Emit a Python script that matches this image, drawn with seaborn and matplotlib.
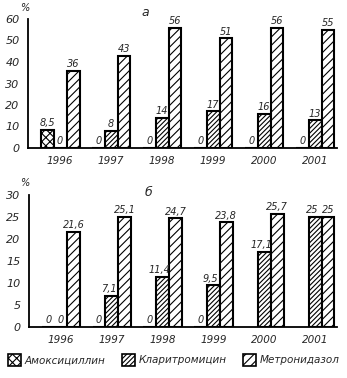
import matplotlib
matplotlib.use("Agg")
import matplotlib.pyplot as plt
import seaborn as sns
import pandas as pd
import numpy as np
from matplotlib.patches import Patch

years = ["1996", "1997", "1998", "1999", "2000", "2001"]
drugs = ["Амоксициллин", "Кларитромицин", "Метронидазол"]

# panel а
a_amox = [8.5, 0, 0, 0, 0, 0]
a_clar = [0, 8, 14, 17, 16, 13]
a_metr = [36, 43, 56, 51, 56, 55]

# panel б
b_amox = [0, 0, 0, 0, np.nan, np.nan]
b_clar = [0, 7.1, 11.4, 9.5, 17.1, 25]
b_metr = [21.6, 25.1, 24.7, 23.8, 25.7, 25]

hatches = ["xxxx", "///////", "////"]

sns.set_style("white")
plt.rcParams["font.family"] = ["DejaVu Sans"]
plt.rcParams["font.style"] = "italic"
plt.rcParams["hatch.linewidth"] = 0.8

def fmt(v):
    return ("%g" % v).replace(".", ",")

def make_df(am, cl, me):
    rows = []
    for vals, d in zip([am, cl, me], drugs):
        for y, v in zip(years, vals):
            rows.append({"year": y, "drug": d, "value": v})
    return pd.DataFrame(rows)

fig = plt.figure(figsize=(3.47, 3.78), dpi=100)
W, H = 347, 378

def panel(ax, am, cl, me, ymax, step, title, tpos, shift):
    df = make_df(am, cl, me)
    sns.barplot(data=df, x="year", y="value", hue="drug", order=years,
                hue_order=drugs, palette=["white"] * 3, edgecolor="black",
                linewidth=1.5, width=0.76, ax=ax, legend=False, saturation=1)
    series = [am, cl, me]
    for k, (cont, h, vals) in enumerate(zip(ax.containers, hatches, series)):
        for rect, v in zip(cont.patches, vals):
            rect.set_hatch(h)
            if np.isnan(v):
                continue
            x = rect.get_x() + rect.get_width() / 2
            if k == 1 and v > 0:
                x -= shift
            ax.text(x, v + ymax * 0.012, fmt(v), ha="center", va="bottom",
                    fontsize=7, style="italic")
    ax.set_xlim(-0.63, 5.43)
    ax.set_ylim(0, ymax)
    ticks = np.arange(0, ymax + 0.1, step)
    ax.set_yticks(ticks)
    ax.set_yticklabels([str(int(t)) for t in ticks], fontsize=8, style="italic")
    ax.set_xticks(range(6))
    ax.set_xticklabels(years, fontsize=7.5, style="italic")
    ax.tick_params(axis="x", length=0, pad=6)
    ax.tick_params(axis="y", length=4, width=1, direction="out", pad=2)
    ax.set_xticks(np.arange(0.5, 5.5, 1), minor=True)
    ax.tick_params(axis="x", which="minor", length=8, width=1, direction="inout")
    for s in ["top", "right"]:
        ax.spines[s].set_visible(False)
    for s in ["left", "bottom"]:
        ax.spines[s].set_linewidth(1.3)
        ax.spines[s].set_color("black")
    ax.set_xlabel("")
    ax.set_ylabel("")
    fig.text(tpos[0] / W, 1 - tpos[1] / H, title, fontsize=9, style="italic",
             ha="center", va="center")

ax1 = fig.add_axes([28 / W, 1 - 148 / H, 309 / W, 129 / H])
panel(ax1, a_amox, a_clar, a_metr, 60, 10, "а", (145, 12), 0.0)
fig.text(25 / W, 1 - 8 / H, "%", fontsize=7, ha="center", va="center")

ax2 = fig.add_axes([29 / W, 1 - 327 / H, 308 / W, 132 / H])
panel(ax2, b_amox, b_clar, b_metr, 30, 5, "б", (148, 193), 0.06)
fig.text(25 / W, 1 - 183 / H, "%", fontsize=7, ha="center", va="center")

handles = [Patch(facecolor="white", edgecolor="black", hatch=h, linewidth=1.2)
           for h in hatches]
fig.legend(handles, drugs, loc="center", bbox_to_anchor=(0.5, 1 - 360 / H),
           ncol=3, frameon=False, handlelength=1.3,
           handleheight=1.5, columnspacing=1.6, handletextpad=0.3,
           prop={"style": "italic", "size": 7.5})

fig.savefig("out.png", dpi=100)
